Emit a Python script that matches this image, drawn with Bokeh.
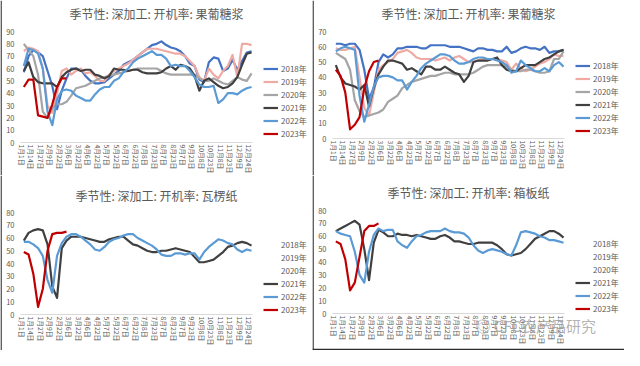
from bokeh.plotting import figure
from bokeh.models import Range1d, FixedTicker, Legend, LegendItem, Label, Span
from bokeh.layouts import row, column
from bokeh.embed import file_html
from bokeh.resources import INLINE

# ---------------- data ----------------
date_labels = ["1月1日", "1月14日", "1月27日", "2月9日", "2月22日", "3月6日", "3月22日",
               "4月6日", "4月22日", "5月7日", "5月22日", "6月7日", "6月22日", "7月8日",
               "7月23日", "8月7日", "8月23日", "9月7日", "9月23日", "10月8日", "10月23日",
               "11月8日", "11月23日", "12月9日", "12月24日"]
years = ["2018年", "2019年", "2020年", "2021年", "2022年", "2023年"]
colors = ["#4472c4", "#f0aaa4", "#a5a5a5", "#404040", "#5b9bd5", "#c00000"]

titles = ["季节性: 深加工: 开机率: 果葡糖浆", "季节性: 深加工: 开机率: 果葡糖浆",
          "季节性: 深加工: 开机率: 瓦楞纸", "季节性: 深加工: 开机率: 箱板纸"]
watermark_text = "◎ CFC农产品研究"

# panel 1: 果葡糖浆 (0-90)
gp1_2018 = [57, 70, 75, 73, 70, 58, 46, 27, 42, 52, 60, 60, 59, 54, 50, 48, 48, 49, 52, 55,
            58, 63, 65, 67, 70, 73, 76, 79, 80, 82, 79, 77, 76, 74, 70, 64, 62, 51, 49, 65,
            69, 68, 58, 60, 67, 59, 66, 73, 74]
gp1_2019 = [74, 77, 76, 74, 60, 30, 24, 40, 58, 60, 55, 58, 60, 56, 57, 54, 50, 50, 55, 58,
            60, 62, 64, 67, 70, 73, 76, 76, 76, 75, 74, 73, 72, 72, 70, 66, 62, 53, 50, 60,
            55, 52, 58, 62, 71, 53, 80, 80, 79]
gp1_2020 = [80, 75, 70, 55, 25, 20, 28, 31, 31, 33, 38, 44, 45, 46, 48, 50, 52, 53, 54, 55,
            56, 57, 58, 59, 60, 60, 60, 60, 60, 58, 56, 55, 55, 55, 55, 55, 55, 52, 50, 50,
            52, 50, 48, 47, 50, 53, 51, 50, 56]
gp1_2021 = [58, 65, 53, 49, 48, 48, 48, 45, 53, 57, 59, 60, 58, 59, 59, 55, 54, 52, 54, 60,
            59, 59, 58, 59, 59, 57, 56, 56, 56, 57, 60, 62, 59, 63, 62, 60, 54, 42, 50, 52,
            49, 46, 44, 45, 48, 53, 63, 72, 73]
gp1_2022 = [62, 76, 75, 72, 60, 25, 14, 35, 42, 43, 42, 38, 36, 34, 34, 39, 43, 45, 45, 50,
            52, 57, 60, 65, 68, 70, 72, 74, 71, 71, 68, 62, 63, 62, 62, 58, 53, 47, 45, 45,
            46, 32, 35, 40, 40, 39, 42, 44, 45]
gp1_2023 = [45, 51, 51, 22, 21, 20, 31, 45, 52, 52]

# panel 2: 果葡糖浆 (0-70)
gp2_2018 = [62, 62, 61, 62, 62, 58, 45, 26, 33, 50, 55, 53, 55, 59, 59, 60, 60, 60, 59, 59,
            61, 61, 61, 61, 60, 60, 60, 59, 58, 57, 59, 59, 58, 58, 57, 57, 60, 56, 57, 59,
            60, 59, 59, 58, 60, 56, 57, 57, 58]
gp2_2019 = [59, 58, 58, 59, 60, 40, 20, 15, 30, 45, 48, 50, 52, 56, 57, 58, 56, 53, 52, 52,
            52, 51, 52, 53, 51, 53, 54, 52, 50, 50, 51, 52, 52, 52, 52, 51, 50, 45, 49, 46,
            44, 45, 47, 49, 50, 52, 55, 54, 54]
gp2_2020 = [56, 54, 52, 45, 25, 18, 14, 15, 16, 17, 19, 24, 26, 28, 33, 35, 37, 38, 39, 40,
            41, 41, 42, 43, 43, 42, 42, 42, 42, 43, 45, 47, 48, 48, 48, 48, 47, 45, 44, 44,
            45, 45, 44, 43, 43, 44, 52, 52, 57]
gp2_2021 = [48, 40, 36, 35, 34, 32, 35, 21, 33, 42, 47, 51, 51, 50, 49, 45, 46, 44, 42, 47,
            47, 45, 45, 47, 45, 43, 42, 37, 41, 50, 51, 51, 51, 52, 53, 48, 45, 44, 44, 46,
            48, 48, 48, 50, 52, 53, 55, 57, 58]
gp2_2022 = [57, 59, 60, 59, 58, 28, 11, 22, 34, 40, 41, 41, 40, 38, 38, 32, 37, 41, 46, 49,
            51, 53, 55, 55, 54, 51, 49, 49, 50, 52, 53, 53, 52, 52, 51, 50, 48, 43, 44, 51,
            48, 46, 44, 44, 46, 44, 48, 50, 47]
gp2_2023 = [45, 41, 30, 6, 9, 14, 33, 44, 50, 51]

# panel 3: 瓦楞纸 (0-80)
wl_2021 = [58, 64, 66, 67, 66, 55, 22, 13, 52, 58, 61, 61, 61, 60, 59, 58, 57, 57, 59, 60,
           61, 61, 58, 55, 54, 52, 50, 49, 49, 50, 50, 51, 52, 51, 50, 49, 45, 41, 41, 42,
           43, 46, 49, 53, 54, 56, 57, 56, 54]
wl_2022 = [57, 57, 55, 52, 46, 27, 17, 46, 56, 61, 63, 63, 61, 58, 55, 51, 50, 53, 57, 59,
           60, 62, 63, 63, 60, 58, 56, 54, 51, 47, 46, 46, 48, 48, 47, 48, 48, 43, 49, 53,
           56, 59, 58, 56, 55, 51, 49, 51, 50]
wl_2023 = [49, 47, 32, 6, 20, 50, 63, 64, 64, 65]

# panel 4: 箱板纸 (0-80)
xb_2021 = [64, 66, 68, 70, 72, 69, 50, 26, 55, 65, 63, 60, 60, 62, 61, 61, 60, 61, 60, 59,
           58, 58, 60, 61, 59, 56, 56, 55, 54, 54, 55, 55, 55, 55, 53, 50, 46, 45, 46, 47,
           50, 54, 58, 60, 62, 64, 64, 62, 59]
xb_2022 = [64, 62, 61, 60, 48, 30, 24, 48, 61, 66, 64, 65, 65, 56, 53, 51, 56, 60, 61, 63,
           64, 64, 64, 66, 64, 63, 63, 62, 59, 53, 49, 47, 49, 50, 49, 48, 46, 45, 53, 63,
           64, 63, 62, 60, 59, 57, 57, 56, 55]
xb_2023 = [56, 54, 42, 18, 24, 44, 64, 68, 68, 70]

empty = []

FONT = "Noto Sans CJK SC"
TXT = "#595959"
W, H = 312, 175


def make_panel(title, series, ymax, ytop_px, y0_px, title_y, legend_first,
               watermark=False, bottom_border=False):
    # data area in pixels (from figure top-left)
    left_px, right_px = 20, 252
    x0, x1 = -0.25, 48.65
    xs_per_px = (x1 - x0) / (right_px - left_px)
    xr = Range1d(x0 - left_px * xs_per_px, x1 + (W - right_px) * xs_per_px)
    ys_per_px = ymax / (y0_px - ytop_px)
    yr = Range1d(-(H - y0_px) * ys_per_px, ymax + ytop_px * ys_per_px)

    p = figure(width=W, height=H, title=None, toolbar_location=None, output_backend="svg",
               x_range=xr, y_range=yr,
               min_border_left=0, min_border_right=0, min_border_top=0, min_border_bottom=0)
    p.outline_line_color = None
    p.xgrid.visible = False
    p.ygrid.visible = False
    rends = []
    for vals, c in zip(series, colors):
        xs = [i + 0.45 for i in range(len(vals))]
        r = p.line(xs, vals, line_color=c, line_width=2.2, line_join="round")
        rends.append(r)

    xa = p.xaxis[0]
    xa.fixed_location = 0
    xa.bounds = (x0, x1)
    xa.ticker = FixedTicker(ticks=[2 * k for k in range(len(date_labels))])
    xa.major_label_overrides = {2 * k: lab for k, lab in enumerate(date_labels)}
    xa.major_label_orientation = "vertical"
    xa.axis_line_color = "#d9d9d9"
    xa.axis_line_width = 1
    xa.major_tick_line_color = None
    xa.minor_tick_line_color = None
    xa.major_tick_out = 0
    xa.major_tick_in = 0
    xa.major_label_standoff = 2
    xa.major_label_text_font_size = "6.8px"
    xa.major_label_text_color = TXT
    xa.major_label_text_font = FONT

    ya = p.yaxis[0]
    ya.fixed_location = x0
    ya.bounds = (0, ymax)
    ya.ticker = FixedTicker(ticks=list(range(0, ymax + 1, 10)))
    ya.axis_line_color = None
    ya.major_tick_line_color = None
    ya.minor_tick_line_color = None
    ya.major_tick_out = 0
    ya.major_tick_in = 0
    ya.major_label_standoff = 6
    ya.major_label_text_font_size = "7.5px"
    ya.major_label_text_color = TXT
    ya.major_label_text_font = FONT

    row_h = 13
    legend_bottom = legend_first - row_h / 2 + 6 * row_h
    items = [LegendItem(label=y, renderers=[r]) for y, r in zip(years, rends)]
    leg = Legend(items=items, location=(263, H - legend_bottom), orientation="vertical",
                 padding=0, margin=0, spacing=0, glyph_height=row_h, glyph_width=15,
                 label_height=row_h, label_standoff=3, label_text_font_size="8px",
                 label_text_color=TXT, label_text_font=FONT,
                 border_line_color=None, background_fill_alpha=0)
    p.add_layout(leg)

    p.add_layout(Label(x=156, y=H - title_y, x_units="screen", y_units="screen",
                       text=title, text_align="center", text_baseline="middle",
                       text_font_size="12px", text_color=TXT, text_font=FONT))
    if watermark:
        p.add_layout(Label(x=163, y=H - 150, x_units="screen", y_units="screen",
                           text=watermark_text, text_align="left", text_baseline="middle",
                           text_font_size="15px", text_color="#9a9a9a", text_alpha=0.75,
                           text_font=FONT))
    # screenshot frame edges
    p.add_layout(Span(location=xr.start + 0.6 * xs_per_px, dimension="height",
                      line_color="#2b2b2b", line_width=1.3))
    if bottom_border:
        p.add_layout(Span(location=yr.start + 1.0 * ys_per_px, dimension="width",
                          line_color="#2b2b2b", line_width=1.3))
    return p


p1 = make_panel(titles[0], [gp1_2018, gp1_2019, gp1_2020, gp1_2021, gp1_2022, gp1_2023],
                90, 31, 142, 13.4, 68)
p2 = make_panel(titles[1], [gp2_2018, gp2_2019, gp2_2020, gp2_2021, gp2_2022, gp2_2023],
                70, 31, 138, 13.4, 65)
p3 = make_panel(titles[2], [empty, empty, empty, wl_2021, wl_2022, wl_2023],
                80, 37, 139, 20, 69)
p4 = make_panel(titles[3], [empty, empty, empty, xb_2021, xb_2022, xb_2023],
                80, 35, 138, 17, 68, watermark=True, bottom_border=True)

layout = column(row(p1, p2), row(p3, p4))
open("out.html", "w").write(file_html(layout, INLINE))
